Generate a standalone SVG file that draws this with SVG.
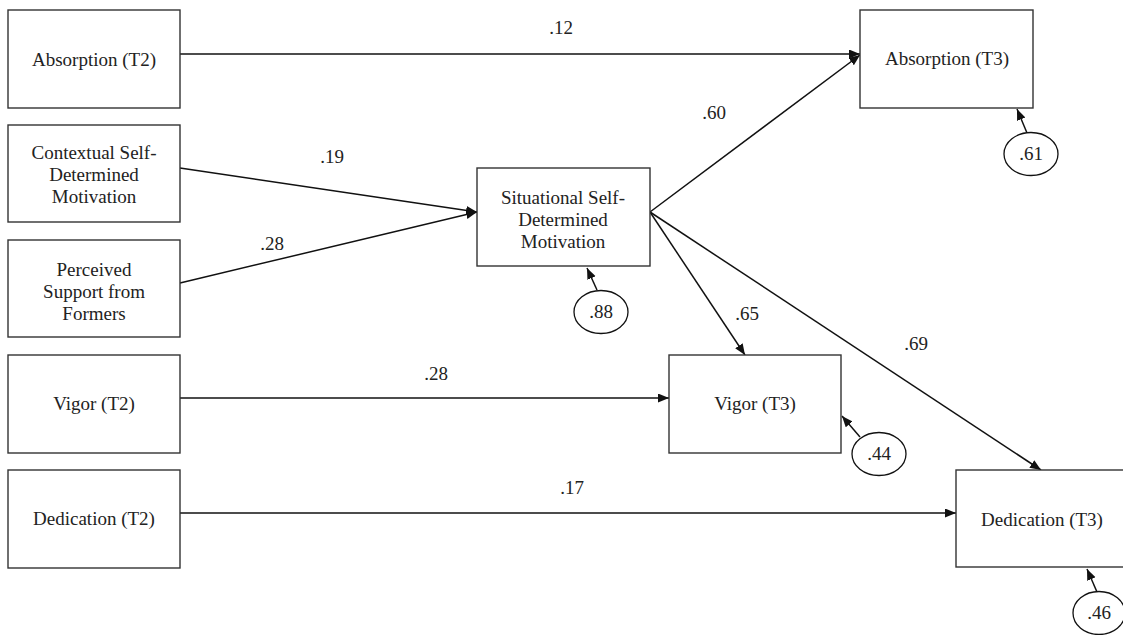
<svg xmlns="http://www.w3.org/2000/svg" width="1123" height="635" viewBox="0 0 1123 635">
<style>
.box{fill:#fff;stroke:#333;stroke-width:1.4}
.err{fill:#fff;stroke:#111;stroke-width:1.3}
.t{font-family:"Liberation Serif","Times New Roman",serif;font-size:19px;fill:#222;text-anchor:middle}
.c{stroke:#111;stroke-width:1.5;fill:none;marker-end:url(#ah)}
</style>
<defs>
<marker id="ah" markerUnits="userSpaceOnUse" markerWidth="12" markerHeight="10" refX="11" refY="4.5" orient="auto">
<path d="M0,0 L11,4.5 L0,9 z" fill="#111"/>
</marker>
</defs>
<rect width="1123" height="635" fill="#fff"/>
<g id="connectors">
<line class="c" x1="180" y1="54" x2="860" y2="54"/>
<line class="c" x1="180" y1="168" x2="477" y2="212"/>
<line class="c" x1="180" y1="283" x2="477" y2="212"/>
<line class="c" x1="650" y1="212" x2="860" y2="55"/>
<line class="c" x1="650" y1="212" x2="745" y2="355"/>
<line class="c" x1="650" y1="212" x2="1041" y2="470"/>
<line class="c" x1="180" y1="398" x2="669" y2="398"/>
<line class="c" x1="180" y1="513" x2="956" y2="513"/>
<line class="c" x1="1027" y1="133" x2="1017" y2="109"/>
<line class="c" x1="597" y1="290" x2="587" y2="268"/>
<line class="c" x1="860" y1="437" x2="842" y2="416"/>
<line class="c" x1="1097" y1="592" x2="1087" y2="569"/>
<text class="t" x="561" y="34">.12</text>
<text class="t" x="332" y="163">.19</text>
<text class="t" x="272" y="250">.28</text>
<text class="t" x="714" y="119">.60</text>
<text class="t" x="747" y="320">.65</text>
<text class="t" x="916" y="350">.69</text>
<text class="t" x="436" y="380">.28</text>
<text class="t" x="572" y="494">.17</text>
</g>
<g id="absorption-t2"><rect class="box" x="8" y="10" width="172" height="98"/><text class="t" x="94" y="66">Absorption (T2)</text></g>
<g id="contextual"><rect class="box" x="8" y="125" width="172" height="97"/><text class="t" x="94" y="159">Contextual Self-</text><text class="t" x="94" y="181">Determined</text><text class="t" x="94" y="203">Motivation</text></g>
<g id="perceived"><rect class="box" x="8" y="240" width="172" height="97"/><text class="t" x="94" y="276">Perceived</text><text class="t" x="94" y="298">Support from</text><text class="t" x="94" y="320">Formers</text></g>
<g id="vigor-t2"><rect class="box" x="8" y="355" width="172" height="98"/><text class="t" x="94" y="410">Vigor (T2)</text></g>
<g id="dedication-t2"><rect class="box" x="8" y="470" width="172" height="98"/><text class="t" x="94" y="525">Dedication (T2)</text></g>
<g id="situational"><rect class="box" x="477" y="168" width="173" height="98"/><text class="t" x="563" y="204">Situational Self-</text><text class="t" x="563" y="226">Determined</text><text class="t" x="563" y="248">Motivation</text></g>
<g id="absorption-t3"><rect class="box" x="860" y="10" width="173" height="98"/><text class="t" x="947" y="65">Absorption (T3)</text></g>
<g id="vigor-t3"><rect class="box" x="669" y="355" width="172" height="98"/><text class="t" x="755" y="410">Vigor (T3)</text></g>
<g id="dedication-t3"><rect class="box" x="956" y="470" width="173" height="97"/><text class="t" x="1042" y="526">Dedication (T3)</text></g>
<g id="e61"><ellipse class="err" cx="1031" cy="154" rx="27" ry="21.5"/><text class="t" x="1031" y="160">.61</text></g>
<g id="e88"><ellipse class="err" cx="601" cy="312" rx="27" ry="21.5"/><text class="t" x="601" y="318">.88</text></g>
<g id="e44"><ellipse class="err" cx="879" cy="454" rx="27" ry="21.5"/><text class="t" x="879" y="460">.44</text></g>
<g id="e46"><ellipse class="err" cx="1099" cy="613" rx="26" ry="21.5"/><text class="t" x="1099" y="619">.46</text></g>
</svg>
